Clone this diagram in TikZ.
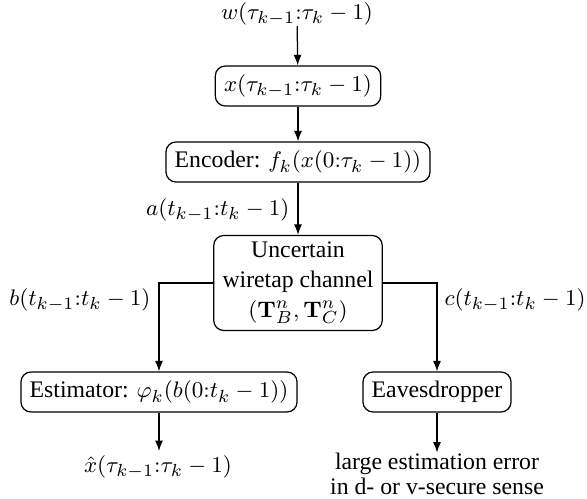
\documentclass[tikz,border=0pt]{standalone}
\usepackage[no-math]{fontspec}
\setmainfont{Liberation Serif}
\usepackage{amsmath}
\usetikzlibrary{arrows.meta}
\begin{document}
\begin{tikzpicture}[x=0.4pt,y=-0.4pt,
  font=\fontsize{9.5}{12}\selectfont,
  blk/.style={draw,rounded corners=4pt,line width=0.5pt,inner xsep=3.5pt,minimum height=16pt},
  lbl/.style={inner sep=0pt},
  con/.style={line width=0.5pt,-{Latex[length=4.2pt,width=3.2pt]}}]
\useasboundingbox (0,0) rectangle (587,499);
\node[lbl] (w) at (297,14) {$w(\tau_{k-1}{:}\tau_k-1)$};
\node[blk] (xb) at (298,86) {$x(\tau_{k-1}{:}\tau_k-1)$};
\node[blk] (enc) at (298,162) {Encoder: $f_k(x(0{:}\tau_k-1))$};
\node[blk,align=center,minimum width=67pt,minimum height=38pt,inner ysep=1pt] (unc) at (298,283) {Uncertain\\wiretap channel\\$(\mathbf{T}_B^n,\mathbf{T}_C^n)$};
\node[blk] (est) at (159,392) {Estimator: $\varphi_k(b(0{:}t_k-1))$};
\node[blk] (eav) at (437,392) {Eavesdropper};
\node[lbl] (xh) at (158,467) {$\hat{x}(\tau_{k-1}{:}\tau_k-1)$};
\node[lbl,align=center,font=\fontsize{9.5}{10}\selectfont] (err) at (437,474) {large estimation error\\in d- or v-secure sense};
\node[lbl,anchor=east] (al) at (290,210) {$a(t_{k-1}{:}t_k-1)$};
\node[lbl,anchor=east] (bl) at (151,300) {$b(t_{k-1}{:}t_k-1)$};
\node[lbl,anchor=west] (cl) at (444,300) {$c(t_{k-1}{:}t_k-1)$};
\draw[con] (w) -- (xb);
\draw[con] (xb) -- (enc);
\draw[con] (enc) -- (unc);
\draw[con] (unc.west) -| (est.north);
\draw[con] (unc.east) -| (eav.north);
\draw[con,shorten >=1.5pt] (est) -- (est |- xh.north);
\draw[con] (eav) -- (err);
\end{tikzpicture}
\end{document}
